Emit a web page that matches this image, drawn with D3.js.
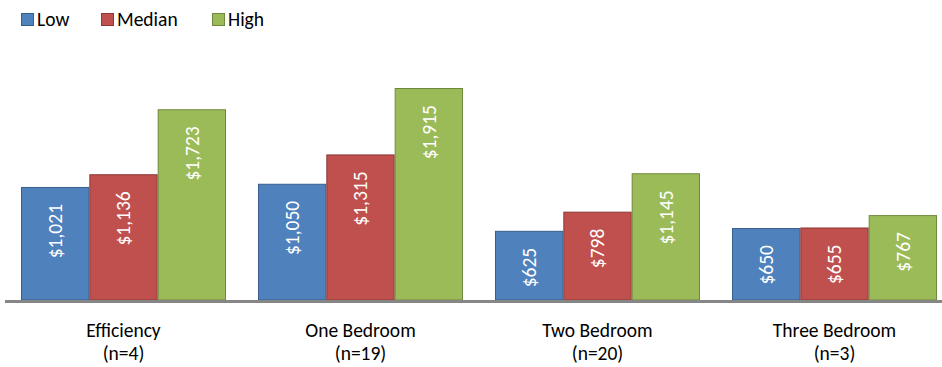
<!DOCTYPE html>
<html>
<head>
<meta charset="utf-8">
<script src="https://cdn.jsdelivr.net/npm/d3@7"></script>
<style>
  html, body { margin: 0; padding: 0; background: #fff; }
  svg { display: block; font-family: Carlito, Calibri, Lato, sans-serif; }
</style>
</head>
<body>
<svg id="chart" width="942" height="367"></svg>
<script>
// Monthly rent ranges by unit type
const categories = ["Efficiency", "One Bedroom", "Two Bedroom", "Three Bedroom"];
const sampleSizes = ["(n=4)", "(n=19)", "(n=20)", "(n=3)"];
const seriesNames = ["Low", "Median", "High"];
const lowValues = [1021, 1050, 625, 650];
const medianValues = [1136, 1315, 798, 655];
const highValues = [1723, 1915, 1145, 767];
const seriesColors = ["#4F81BD", "#C0504D", "#9BBB59"];
const seriesStrokes = ["#385D8A", "#8C3836", "#71893F"];

const seriesValues = [lowValues, medianValues, highValues];
const rows = categories.map((c, i) => ({
  category: c,
  n: sampleSizes[i],
  values: seriesNames.map((s, j) => ({ series: s, idx: j, value: seriesValues[j][i] }))
}));

const svg = d3.select("#chart");
const baseY = 300;
const fontSize = "19.5px";

const x0 = d3.scaleBand()
  .domain(categories)
  .range([5, 953])
  .paddingInner(0.135)
  .paddingOuter(0.0675);

const x1 = d3.scaleBand()
  .domain(seriesNames)
  .range([0, x0.bandwidth()]);

const y = d3.scaleLinear()
  .domain([0, 2500])
  .range([baseY, 23.25]);

const fmt = d3.format("$,");

const groups = svg.append("g")
  .selectAll("g")
  .data(rows)
  .join("g")
  .attr("transform", d => `translate(${x0(d.category)},0)`);

groups.selectAll("rect")
  .data(d => d.values)
  .join("rect")
  .attr("x", d => x1(d.series) + 0.5)
  .attr("y", d => y(d.value) + 0.5)
  .attr("width", x1.bandwidth() - 1)
  .attr("height", d => y(0) - y(d.value) - 0.5)
  .attr("fill", d => seriesColors[d.idx])
  .attr("stroke", d => seriesStrokes[d.idx])
  .attr("stroke-width", 1);

// value labels, inside the top of each bar, reading upward
groups.selectAll("text.val")
  .data(d => d.values)
  .join("text")
  .attr("class", "val")
  .attr("transform", d => `translate(${x1(d.series) + x1.bandwidth() / 2},${y(d.value) + 17}) rotate(-90)`)
  .attr("text-anchor", "end")
  .attr("dy", "0.35em")
  .attr("fill", "#fff")
  .attr("font-size", fontSize)
  .text(d => fmt(d.value));

// baseline
svg.append("line")
  .attr("x1", 5).attr("x2", 942)
  .attr("y1", baseY + 1.5).attr("y2", baseY + 1.5)
  .attr("stroke", "#868686")
  .attr("stroke-width", 3);

// category axis labels (two lines)
const xAxis = svg.append("g");
xAxis.selectAll("text")
  .data(rows)
  .join("text")
  .attr("x", d => x0(d.category) + x0.bandwidth() / 2)
  .attr("y", 337)
  .attr("text-anchor", "middle")
  .attr("fill", "#000")
  .attr("font-size", fontSize)
  .each(function (d) {
    const t = d3.select(this);
    t.append("tspan").attr("x", x0(d.category) + x0.bandwidth() / 2).text(d.category);
    t.append("tspan").attr("x", x0(d.category) + x0.bandwidth() / 2).attr("dy", 23).text(d.n);
  });

// legend
const legendX = [21, 101, 212];
const legend = svg.append("g")
  .selectAll("g")
  .data(seriesNames)
  .join("g")
  .attr("transform", (d, i) => `translate(${legendX[i]},13)`);

legend.append("rect")
  .attr("x", 0.5).attr("y", 0.5)
  .attr("width", 12).attr("height", 12)
  .attr("fill", (d, i) => seriesColors[i])
  .attr("stroke", (d, i) => seriesStrokes[i]);

legend.append("text")
  .attr("x", 16)
  .attr("y", 13)
  .attr("fill", "#000")
  .attr("font-size", fontSize)
  .text(d => d);
</script>
</body>
</html>
